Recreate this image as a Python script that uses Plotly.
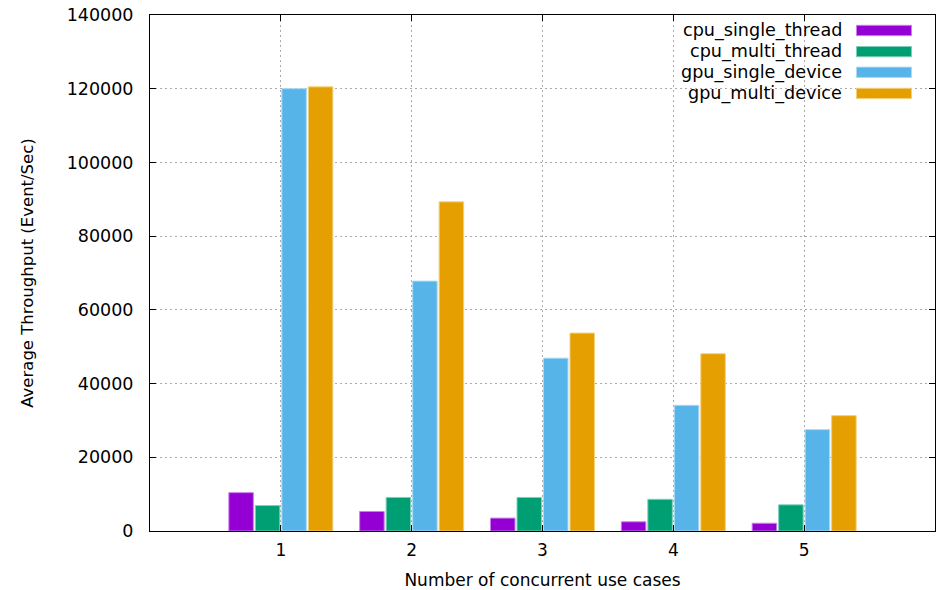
import plotly.graph_objects as go

# Throughput per number of concurrent use cases
use_cases = [1, 2, 3, 4, 5]
series_names = ["cpu_single_thread", "cpu_multi_thread", "gpu_single_device", "gpu_multi_device"]
cpu_single_thread = [10400, 5300, 3500, 2500, 2100]
cpu_multi_thread = [6900, 9100, 9100, 8600, 7100]
gpu_single_device = [120000, 67800, 46900, 34100, 27500]
gpu_multi_device = [120500, 89300, 53700, 48100, 31300]
y_ticks = [0, 20000, 40000, 60000, 80000, 100000, 120000, 140000]

series_values = [cpu_single_thread, cpu_multi_thread, gpu_single_device, gpu_multi_device]
fill_colors = ["#9400D3", "#009E73", "#56B4E9", "#E69F00"]
edge_colors = ["#C77FE9", "#7FCEB9", "#AAD9F4", "#F2CF7F"]

FONT = "DejaVu Sans"
GRID = "#ababab"

fig = go.Figure()
for name, vals, fc, ec in zip(series_names, series_values, fill_colors, edge_colors):
    fig.add_trace(go.Bar(
        x=use_cases, y=vals, name=name, showlegend=False,
        marker=dict(color=fc, line=dict(color=ec, width=1)),
    ))

# Key in the top-right corner: right-aligned labels with swatches after them
shapes = [dict(type="rect", xref="paper", yref="paper", x0=0.623, x1=1.0, y0=0.835, y1=1.0,
               fillcolor="white", line=dict(width=0), layer="between")]
annotations = []
row_y = [0.970, 0.929, 0.889, 0.848]
for name, fc, ec, yy in zip(series_names, fill_colors, edge_colors, row_y):
    annotations.append(dict(xref="paper", yref="paper", x=0.884, y=yy, text=name,
                            showarrow=False, xanchor="right", yanchor="middle",
                            font=dict(family=FONT, size=17.6, color="black")))
    shapes.append(dict(type="rect", xref="paper", yref="paper", x0=0.9, x1=0.97,
                       y0=yy - 0.010, y1=yy + 0.010, fillcolor=fc,
                       line=dict(color=ec, width=1), layer="above"))

fig.update_layout(
    width=936, height=590,
    margin=dict(l=150, r=1, t=15, b=59),
    paper_bgcolor="white", plot_bgcolor="white",
    barmode="group", bargap=0.19, bargroupgap=0.075,
    font=dict(family=FONT, size=16, color="black"),
    shapes=shapes, annotations=annotations,
    xaxis=dict(
        range=[0, 6], tickmode="array", tickvals=use_cases, ticktext=[str(u) for u in use_cases],
        showgrid=True, gridcolor=GRID, griddash="2px,3px", gridwidth=1,
        showline=True, linecolor="black", linewidth=1, mirror="ticks",
        ticks="inside", ticklen=6, tickcolor="black", zeroline=False,
        ticklabelstandoff=4,
        title=dict(text="Number of concurrent use cases", standoff=18, font=dict(size=17)),
        tickfont=dict(size=17),
    ),
    yaxis=dict(
        range=[0, 140000], tickmode="array", tickvals=y_ticks, ticktext=[str(t) for t in y_ticks],
        showgrid=True, gridcolor=GRID, griddash="2px,3px", gridwidth=1,
        showline=True, linecolor="black", linewidth=1, mirror="ticks",
        ticks="inside", ticklen=6, tickcolor="black", zeroline=False,
        ticklabelstandoff=12,
        title=dict(text="Average Throughput (Event/Sec)", standoff=28, font=dict(size=16.5)),
        tickfont=dict(size=17.5),
    ),
)

fig.write_html("out.html")
